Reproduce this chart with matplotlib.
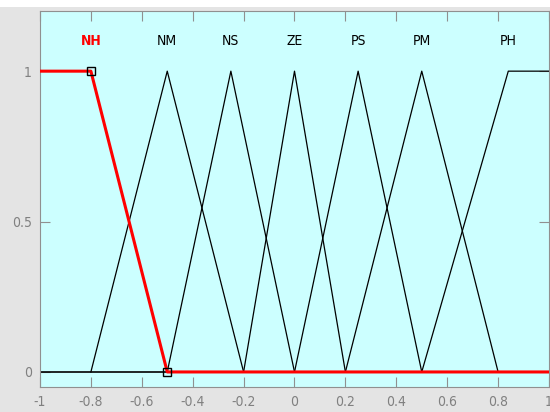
import numpy as np
import matplotlib
matplotlib.use('Agg')
import matplotlib.pyplot as plt
from matplotlib.patches import Rectangle

# membership functions (name, breakpoints x, membership y)
names = ['NH', 'NM', 'NS', 'ZE', 'PS', 'PM', 'PH']
mf_x = [
    [-1.0, -0.8, -0.5],
    [-0.8, -0.5, -0.2],
    [-0.5, -0.25, 0.0],
    [-0.2, 0.0, 0.2],
    [0.0, 0.25, 0.5],
    [0.2, 0.5, 0.8],
    [0.5, 0.84, 1.0],
]
mf_y = [
    [1, 1, 0],
    [0, 1, 0],
    [0, 1, 0],
    [0, 1, 0],
    [0, 1, 0],
    [0, 1, 0],
    [0, 1, 1],
]
label_x = [-0.8, -0.5, -0.25, 0.0, 0.25, 0.5, 0.84]
selected = 0

xticks = [-1, -0.8, -0.6, -0.4, -0.2, 0, 0.2, 0.4, 0.6, 0.8, 1]
xticklabels = ['-1', '-0.8', '-0.6', '-0.4', '-0.2', '0', '0.2', '0.4', '0.6', '0.8', '1']
yticks = [0, 0.5, 1]
yticklabels = ['0', '0.5', '1']

plt.rcParams['font.family'] = ['Liberation Sans Narrow', 'DejaVu Sans']
plt.rcParams['font.stretch'] = 'condensed'

fig = plt.figure(figsize=(5.5, 4.12), dpi=100, facecolor='#e4e4e4')
fig.patches.append(Rectangle((0, 0.983), 1, 0.02, transform=fig.transFigure,
                             facecolor='white', edgecolor='none', zorder=0))
ax = fig.add_axes([0.0727, 0.0607, 0.9255, 0.9126])
ax.set_facecolor('#ccffff')

# zero baseline (each mf is zero over the rest of the range)
ax.plot([-1, 1], [0, 0], color='black', lw=1.2, zorder=2)

for i in range(len(names)):
    if i == selected:
        continue
    ax.plot(mf_x[i], mf_y[i], color='black', lw=0.9, zorder=3)
    ax.text(label_x[i], 1.1, names[i], ha='center', va='center',
            fontsize=10, color='black')

# selected mf in red with vertex markers
sx = mf_x[selected] + [1.0]
sy = mf_y[selected] + [0]
ax.plot(sx, sy, color='red', lw=2.2, zorder=4)
ax.plot(mf_x[selected][1:], mf_y[selected][1:], ls='none', marker='s',
        ms=6, mfc='none', mec='black', mew=1, zorder=5)
ax.text(label_x[selected], 1.1, names[selected], ha='center', va='center',
        fontsize=10, color='red', fontweight='bold')

ax.set_xlim(-1, 1)
ax.set_ylim(-0.05, 1.2)
ax.set_xticks(xticks)
ax.set_xticklabels(xticklabels)
ax.set_yticks(yticks)
ax.set_yticklabels(yticklabels)
ax.tick_params(direction='in', length=7, color='#909090', labelcolor='#808080',
               labelsize=10, top=True, right=True, pad=6)
for s in ax.spines.values():
    s.set_color('#909090')

fig.savefig('out.png', dpi=100, facecolor=fig.get_facecolor())
